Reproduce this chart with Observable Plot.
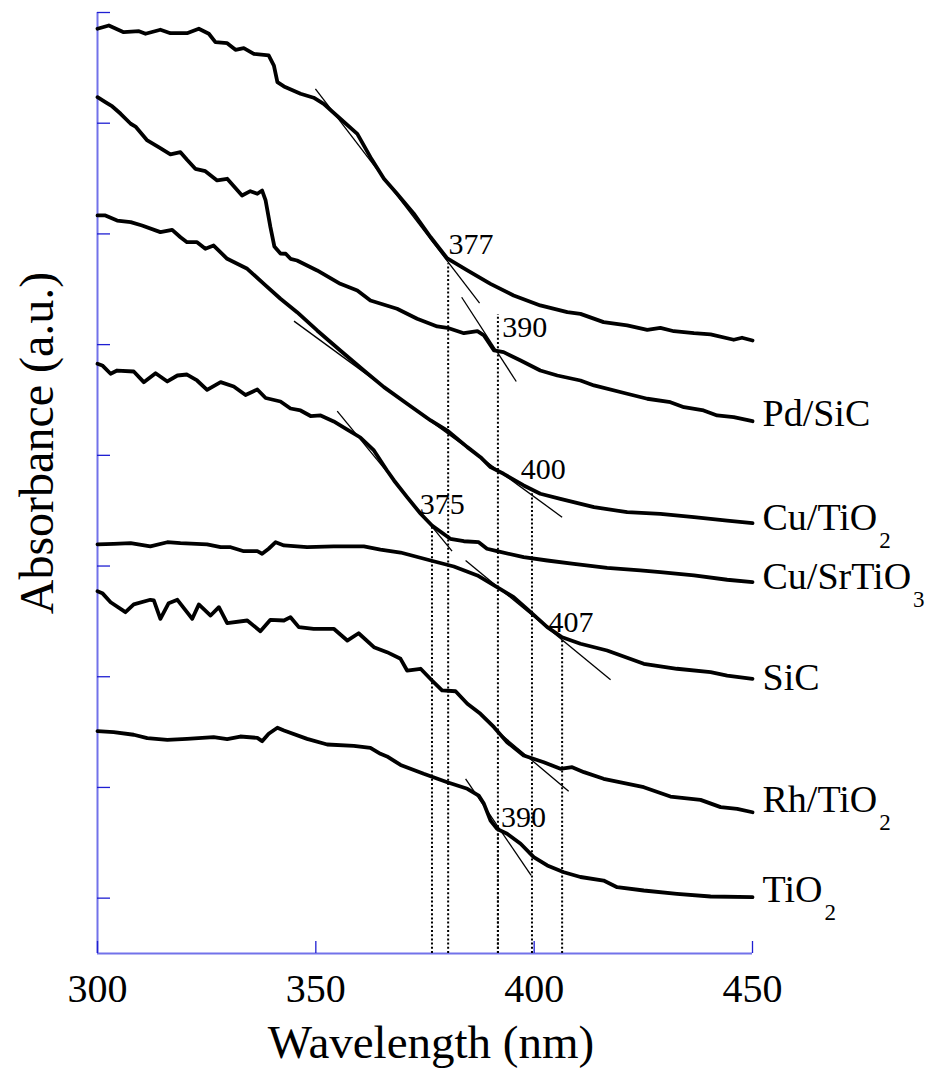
<!DOCTYPE html>
<html>
<head>
<meta charset="utf-8">
<script src="https://cdn.jsdelivr.net/npm/d3@7"></script>
<script src="https://cdn.jsdelivr.net/npm/@observablehq/plot@0.6"></script>
<style>
  html, body { margin: 0; padding: 0; background: #fff; }
  svg { display: block; }
</style>
</head>
<body>
<div id="chart"></div>
<script>
// ---------- axis ticks ----------
const xTicks = [300, 350, 400, 450];
const yTicks = [0.5, 1.5, 2.5, 3.5, 4.5, 5.5, 6.5, 7.5, 8.5];

// ---------- spectra: [wavelength nm, absorbance a.u.] ----------
const curveTop = [[300.0,8.353],[302.6,8.383],[306.0,8.322],[309.5,8.331],[311.0,8.308],[314.4,8.344],[316.7,8.313],[320.5,8.313],[323.2,8.353],[325.5,8.308],[327.0,8.232],[329.7,8.223],[331.6,8.163],[333.5,8.178],[335.8,8.127],[339.2,8.112],[340.4,8.021],[341.2,7.871],[342.7,7.832],[346.5,7.766],[349.5,7.730],[351.8,7.675],[355.6,7.540],[359.5,7.404],[362.5,7.193],[365.6,6.998],[368.6,6.863],[372.4,6.685],[376.3,6.470],[380.1,6.278],[384.7,6.170],[390.0,6.049],[395.3,5.944],[401.4,5.854],[407.6,5.793],[410.6,5.778],[415.9,5.703],[421.3,5.673],[425.9,5.634],[428.9,5.652],[432.0,5.621],[436.6,5.603],[440.4,5.592],[445.7,5.544],[447.6,5.562],[450.0,5.537]];

const curvePdSiC = [[300.0,7.735],[301.8,7.690],[303.4,7.651],[305.3,7.585],[307.6,7.495],[308.7,7.470],[311.4,7.344],[314.0,7.283],[316.7,7.218],[319.0,7.238],[320.5,7.170],[322.4,7.088],[324.7,7.067],[327.4,6.983],[329.7,6.998],[333.1,6.847],[335.0,6.886],[336.6,6.863],[337.7,6.892],[338.5,6.802],[339.6,6.561],[340.5,6.387],[341.9,6.323],[343.1,6.321],[344.2,6.275],[345.7,6.260],[350.3,6.170],[355.6,6.049],[359.5,5.989],[362.5,5.899],[368.6,5.824],[373.2,5.733],[377.8,5.664],[380.1,5.652],[383.9,5.603],[387.0,5.621],[388.5,5.583],[390.8,5.447],[393.0,5.432],[396.9,5.357],[401.4,5.266],[405.3,5.221],[410.6,5.176],[413.7,5.131],[421.3,5.056],[425.9,5.011],[431.2,4.980],[434.3,4.935],[438.8,4.905],[441.9,4.860],[445.7,4.845],[450.0,4.808]];

const curveCuTiO2 = [[300.0,6.667],[301.8,6.667],[304.5,6.621],[307.6,6.606],[310.2,6.576],[314.4,6.516],[317.1,6.537],[319.0,6.470],[320.5,6.425],[322.8,6.425],[324.7,6.366],[326.6,6.395],[329.7,6.275],[334.3,6.185],[338.1,6.049],[341.9,5.914],[345.7,5.793],[350.3,5.628],[355.6,5.447],[361.0,5.266],[365.6,5.116],[370.9,4.966],[376.3,4.815],[380.1,4.724],[384.7,4.574],[387.7,4.483],[390.0,4.393],[393.0,4.333],[397.6,4.228],[401.4,4.153],[406.0,4.107],[413.7,4.032],[421.3,3.986],[428.9,3.972],[436.6,3.941],[444.2,3.911],[450.0,3.887]];

const curveCuSrTiO3 = [[300.0,5.327],[301.1,5.312],[303.0,5.237],[304.5,5.266],[308.3,5.257],[310.6,5.161],[313.3,5.242],[316.0,5.167],[318.3,5.221],[320.5,5.230],[322.8,5.176],[325.1,5.092],[328.2,5.161],[331.2,5.122],[333.9,5.045],[336.6,5.095],[338.5,5.018],[341.9,4.986],[344.2,4.923],[346.5,4.905],[348.8,4.855],[351.1,4.860],[354.1,4.806],[357.2,4.733],[360.2,4.661],[363.3,4.544],[366.3,4.363],[367.9,4.273],[370.9,4.122],[374.0,3.972],[376.6,3.866],[380.8,3.746],[383.9,3.724],[387.3,3.715],[389.2,3.656],[391.5,3.634],[397.6,3.580],[403.0,3.550],[409.1,3.520],[416.7,3.484],[424.3,3.460],[428.9,3.444],[436.6,3.415],[444.2,3.376],[450.0,3.354]];

const curveSiC = [[300.0,3.695],[303.7,3.701],[307.6,3.706],[312.1,3.677],[316.0,3.715],[319.0,3.706],[325.1,3.695],[328.2,3.670],[330.5,3.670],[333.5,3.634],[336.6,3.634],[337.7,3.611],[339.2,3.656],[340.8,3.715],[342.7,3.686],[348.0,3.670],[354.1,3.677],[361.0,3.677],[364.8,3.649],[369.4,3.622],[376.3,3.550],[381.6,3.496],[387.0,3.415],[391.5,3.309],[395.3,3.219],[399.2,3.083],[403.0,2.948],[406.4,2.857],[410.6,2.798],[416.7,2.737],[425.1,2.617],[432.7,2.572],[440.4,2.541],[444.2,2.511],[450.0,2.481]];

const curveRhTiO2 = [[300.0,3.273],[301.1,3.255],[303.0,3.173],[306.4,3.083],[308.3,3.153],[312.1,3.195],[312.9,3.189],[314.4,3.023],[316.3,3.164],[318.3,3.195],[321.7,3.023],[323.2,3.153],[325.9,3.053],[327.8,3.128],[329.7,2.984],[334.3,3.008],[337.3,2.911],[339.6,3.014],[342.7,3.008],[344.2,3.038],[346.1,2.948],[349.5,2.933],[354.1,2.933],[357.2,2.827],[359.8,2.893],[363.3,2.767],[366.3,2.722],[369.4,2.662],[370.9,2.556],[374.0,2.572],[376.6,2.466],[378.9,2.376],[382.0,2.369],[384.7,2.256],[387.7,2.165],[390.8,2.044],[393.8,1.909],[397.6,1.789],[402.2,1.728],[406.0,1.668],[408.7,1.683],[411.4,1.638],[415.9,1.578],[425.1,1.502],[431.2,1.418],[438.1,1.388],[442.7,1.322],[446.5,1.307],[450.0,1.276]];

const curveTiO2 = [[300.0,2.008],[303.7,1.999],[308.3,1.976],[311.4,1.945],[316.0,1.930],[320.5,1.939],[326.6,1.954],[329.7,1.936],[332.7,1.960],[336.6,1.948],[337.7,1.918],[339.2,1.985],[341.2,2.039],[342.7,2.014],[348.0,1.939],[352.6,1.888],[358.7,1.876],[362.5,1.858],[364.8,1.804],[366.3,1.780],[369.4,1.703],[374.7,1.623],[380.1,1.547],[384.7,1.488],[387.3,1.427],[388.5,1.352],[390.0,1.201],[391.5,1.126],[393.8,1.081],[396.9,0.991],[399.9,0.870],[403.0,0.795],[406.8,0.734],[410.6,0.691],[415.9,0.659],[419.0,0.599],[425.1,0.569],[432.7,0.539],[440.4,0.515],[450.0,0.509]];

const curves = [curveTop, curvePdSiC, curveCuTiO2, curveCuSrTiO3, curveSiC, curveRhTiO2, curveTiO2];

// ---------- series names (right side) ----------
const seriesNames = ["Pd/SiC", "Cu/TiO2", "Cu/SrTiO3", "SiC", "Rh/TiO2", "TiO2"];
const seriesLabelY = [4.769, 3.821, 3.294, 2.376, 1.276, 0.463];

// ---------- absorption-edge tangents [x1, y1, x2, y2] ----------
const tangents = [
  [349.9, 7.811, 387.5, 5.874],
  [383.4, 5.928, 395.9, 5.167],
  [345.0, 5.712, 406.4, 3.941],
  [354.9, 4.899, 381.2, 3.634],
  [384.3, 3.550, 417.5, 2.472],
  [392.3, 1.983, 407.9, 1.466],
  [384.3, 1.578, 399.3, 0.705]
];

// ---------- edge drop lines [wavelength, absorbance at top] ----------
const edgeLines = [[380.3, 6.230], [391.7, 5.772], [399.5, 4.155], [376.6, 3.851], [406.4, 2.827], [391.7, 1.130]];

// ---------- edge value labels ----------
const edgeText = ["377", "390", "400", "375", "407", "390"];
const edgeTextPos = [[380.4, 6.323], [392.7, 5.567], [396.9, 4.288], [373.8, 3.972], [403.3, 2.902], [392.4, 1.147]];

// ---------- build ----------
const FONT = "'Liberation Serif', 'Times New Roman', Times, serif";
const axisColor = "#7272ea";
const tickColor = "#1f1fd2";
const W = 935, H = 1070, mT = 12, mB = 117, mL = 97, mR = 183;
const innerW = W - mL - mR, innerH = H - mT - mB;

const lineMarks = curves.map(c => Plot.line(c, {
  x: d => d[0], y: d => d[1],
  stroke: "black", strokeWidth: 3.8, strokeLinejoin: "round", strokeLinecap: "round"
}));

const labels = seriesNames.map((n, i) => ({name: n, y: seriesLabelY[i]}));
const edges = edgeText.map((t, i) => ({t, x: edgeTextPos[i][0], y: edgeTextPos[i][1]}));

const chart = Plot.plot({
  width: W, height: H,
  marginTop: mT, marginBottom: mB, marginLeft: mL, marginRight: mR,
  style: {fontFamily: FONT, background: "white", overflow: "visible"},
  x: {domain: [300, 450], axis: null},
  y: {domain: [0, 8.5], axis: null},
  marks: [
    // axis lines
    Plot.ruleX([300], {x: d => d, stroke: axisColor, strokeWidth: 2}),
    Plot.ruleY([0], {y: d => d, stroke: axisColor, strokeWidth: 2}),
    // inward ticks
    Plot.tickX(xTicks, {x: d => d, insetTop: innerH - 12, stroke: tickColor, strokeWidth: 1.3}),
    Plot.tickY(yTicks, {y: d => d, insetRight: innerW - 13, stroke: tickColor, strokeWidth: 1.3}),
    // dotted edge lines
    Plot.ruleX(edgeLines, {x: d => d[0], y1: 0, y2: d => d[1], stroke: "black", strokeWidth: 2, strokeDasharray: "2,2.2"}),
    // tangents
    Plot.link(tangents, {x1: d => d[0], y1: d => d[1], x2: d => d[2], y2: d => d[3], stroke: "black", strokeWidth: 1.3}),
    // spectra
    ...lineMarks,
    // edge value labels
    Plot.text(edges, {x: "x", y: "y", text: "t", textAnchor: "start", lineAnchor: "bottom", fontSize: 30, fontFamily: FONT, fill: "black"}),
    // series labels
    Plot.text(labels, {y: "y", text: "name", frameAnchor: "right", dx: 10, textAnchor: "start", lineAnchor: "bottom", fontSize: 38, fontFamily: FONT, fill: "black"}),
    // tick labels
    Plot.text(xTicks, {x: d => d, text: d => String(d), frameAnchor: "bottom", dy: 48, textAnchor: "middle", lineAnchor: "bottom", fontSize: 40, fontFamily: FONT, fill: "black"}),
    // axis titles
    Plot.text(["Wavelength (nm)"], {text: d => d, frameAnchor: "bottom", dx: 6, dy: 104, textAnchor: "middle", lineAnchor: "bottom", fontSize: 47, fontFamily: FONT, fill: "black"}),
    Plot.text(["Absorbance (a.u.)"], {text: d => d, frameAnchor: "left", rotate: -90, dx: -45, dy: -40, textAnchor: "middle", lineAnchor: "bottom", fontSize: 48, fontFamily: FONT, fill: "black"})
  ]
});

// chemical subscripts on series labels
const SVGNS = "http://www.w3.org/2000/svg";
chart.querySelectorAll("text").forEach(t => {
  const s = t.textContent;
  if (seriesNames.includes(s)) {
    const m = s.match(/^(.*O)(\d)$/);
    if (m) {
      t.textContent = m[1];
      const sub = document.createElementNS(SVGNS, "tspan");
      sub.setAttribute("dy", "18");
      sub.setAttribute("dx", "2");
      sub.setAttribute("font-size", "23");
      sub.textContent = m[2];
      t.appendChild(sub);
    }
  }
});

document.getElementById("chart").appendChild(chart);
</script>
</body>
</html>
